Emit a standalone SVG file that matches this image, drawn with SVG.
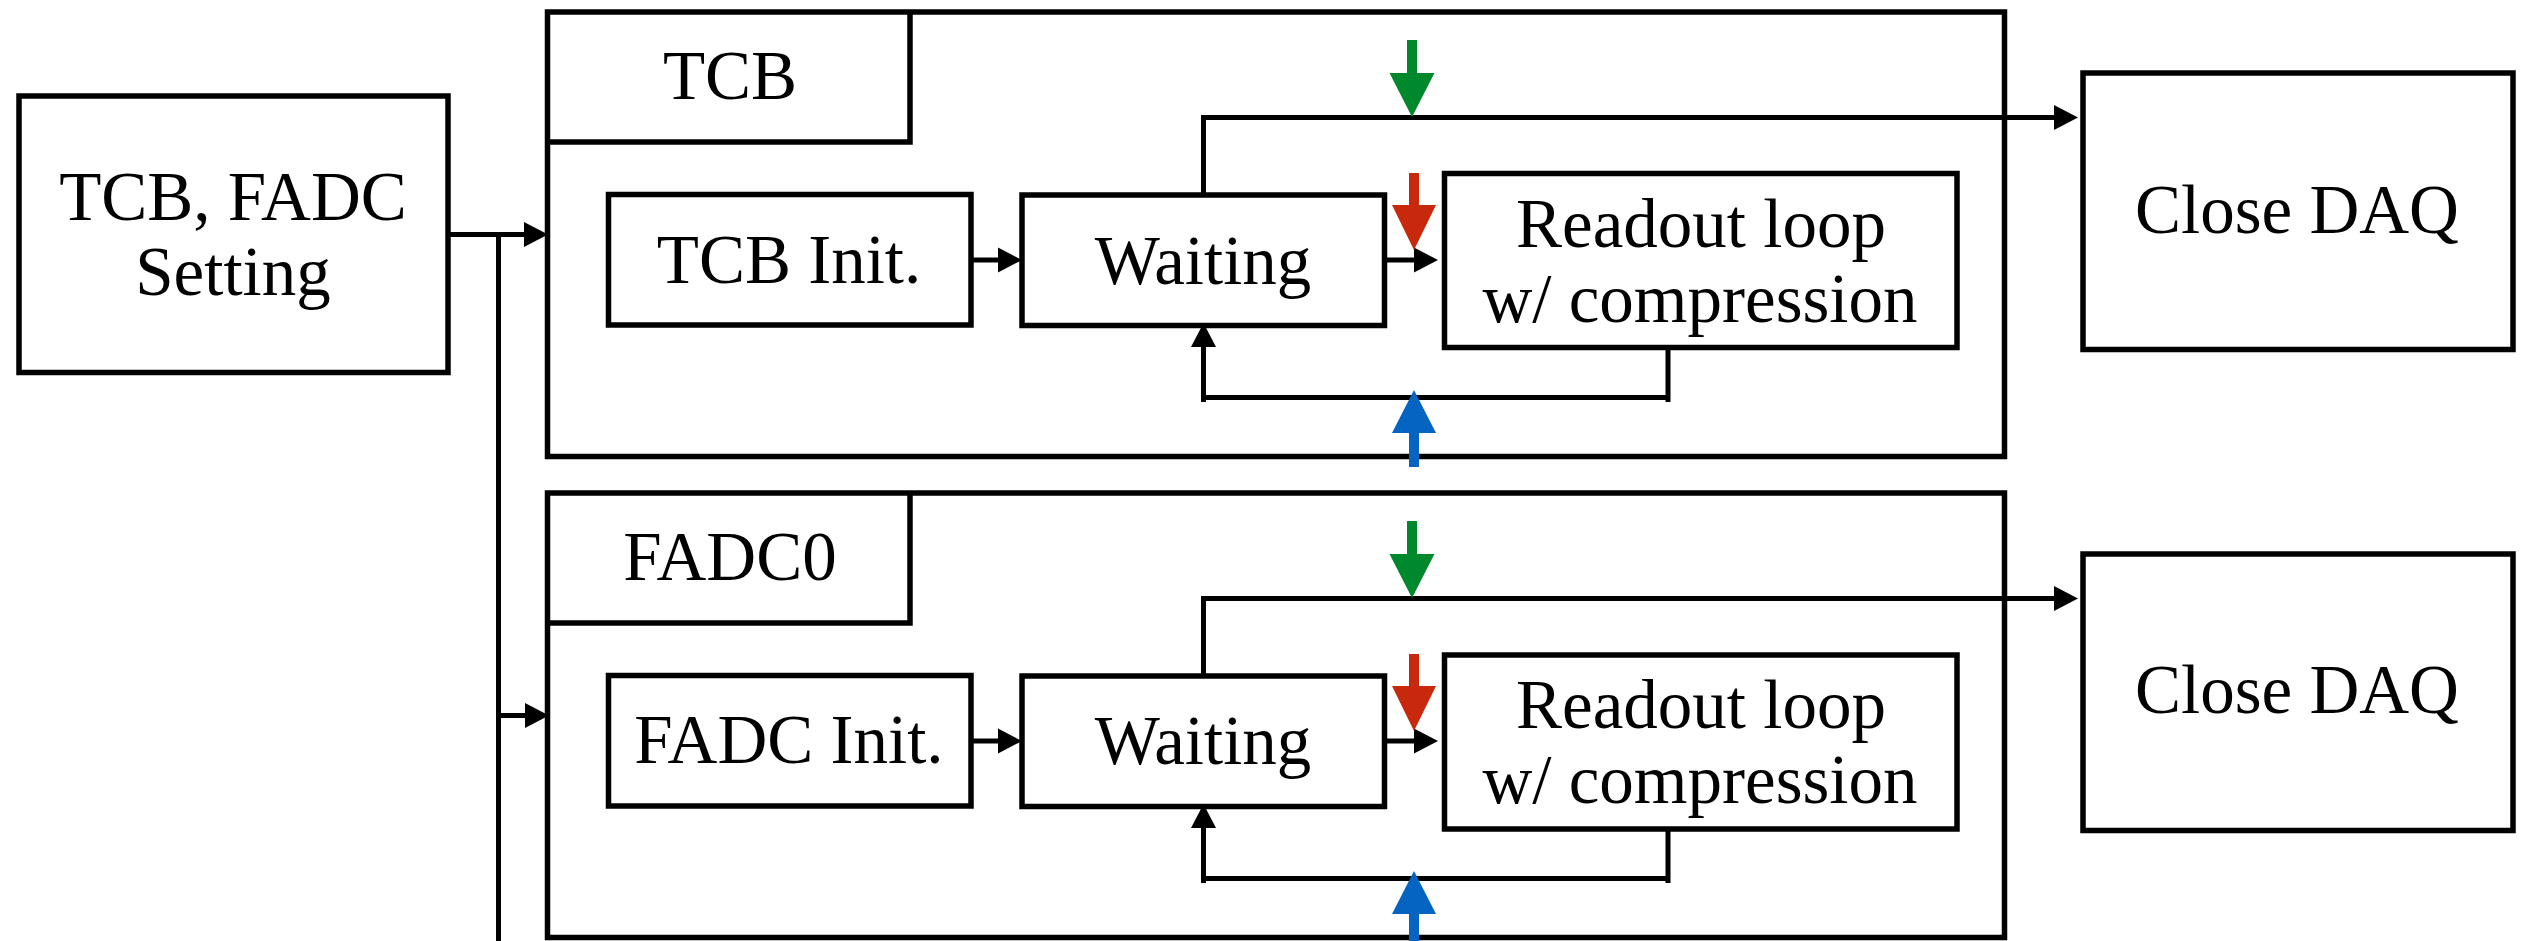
<svg xmlns="http://www.w3.org/2000/svg" width="2522" height="941" viewBox="0 0 2522 941">
  <style>
    .box { fill: #ffffff; stroke: #000000; stroke-width: 5.5; }
    .frame { fill: none; stroke: #000000; stroke-width: 5.5; }
    .wire { fill: none; stroke: #000000; stroke-width: 5; }
    .label { font-family: "Liberation Serif", "Times New Roman", serif; font-size: 69px; fill: #000000; text-anchor: middle; }
    .sig { fill: none; stroke-width: 10; }
  </style>
  <defs>
    <marker id="head" markerUnits="userSpaceOnUse" markerWidth="26" markerHeight="26" refX="0" refY="12.5" orient="auto" overflow="visible">
      <path d="M0,0 L24,12.5 L0,25 Z" fill="#000000"/>
    </marker>
    <marker id="head-green" markerUnits="userSpaceOnUse" markerWidth="46" markerHeight="46" refX="0" refY="22.5" orient="auto" overflow="visible">
      <path d="M0,0 L44,22.5 L0,45 Z" fill="#00892C"/>
    </marker>
    <marker id="head-red" markerUnits="userSpaceOnUse" markerWidth="46" markerHeight="46" refX="0" refY="22" orient="auto" overflow="visible">
      <path d="M0,0 L45,22 L0,44 Z" fill="#C8290C"/>
    </marker>
    <marker id="head-blue" markerUnits="userSpaceOnUse" markerWidth="46" markerHeight="46" refX="0" refY="22" orient="auto" overflow="visible">
      <path d="M0,0 L43,22 L0,44 Z" fill="#0563C1"/>
    </marker>
  </defs>
  <rect width="2522" height="941" fill="#ffffff"/>

  <!-- setting stage -->
  <g id="setting">
    <rect class="box" x="19" y="96" width="429" height="276.5"/>
    <text class="label" x="233" y="220">TCB, FADC</text>
    <text class="label" x="233" y="295">Setting</text>
  </g>

  <!-- TCB process -->
  <g id="tcb">
    <rect class="frame" x="547.5" y="12" width="1457" height="444.5"/>
    <path class="frame" d="M547.5,142 H910 V12"/>
    <text class="label" x="730" y="99">TCB</text>
  </g>
  <g id="tcb-init">
    <rect class="box" x="608.5" y="194.5" width="362.5" height="130.5"/>
    <text class="label" x="789" y="283">TCB Init.</text>
  </g>
  <g id="tcb-waiting">
    <rect class="box" x="1022" y="195" width="362.5" height="130.5"/>
    <text class="label" x="1203" y="284">Waiting</text>
  </g>
  <g id="tcb-readout">
    <rect class="box" x="1444.5" y="173.5" width="512.5" height="174"/>
    <text class="label" x="1701" y="247">Readout loop</text>
    <text class="label" x="1700" y="322">w/ compression</text>
  </g>
  <g id="tcb-close">
    <rect class="box" x="2083" y="73" width="430" height="276.5"/>
    <text class="label" x="2297" y="233">Close DAQ</text>
  </g>

  <!-- FADC0 process -->
  <g id="fadc0">
    <rect class="frame" x="547.5" y="493" width="1457" height="444.5"/>
    <path class="frame" d="M547.5,623 H910 V493"/>
    <text class="label" x="730" y="580">FADC0</text>
  </g>
  <g id="fadc-init">
    <rect class="box" x="608.5" y="675.5" width="362.5" height="130.5"/>
    <text class="label" x="789" y="763">FADC Init.</text>
  </g>
  <g id="fadc-waiting">
    <rect class="box" x="1022" y="676" width="362.5" height="130.5"/>
    <text class="label" x="1203" y="764">Waiting</text>
  </g>
  <g id="fadc-readout">
    <rect class="box" x="1444.5" y="655" width="512.5" height="174"/>
    <text class="label" x="1701" y="728">Readout loop</text>
    <text class="label" x="1700" y="803">w/ compression</text>
  </g>
  <g id="fadc-close">
    <rect class="box" x="2083" y="554" width="430" height="276.5"/>
    <text class="label" x="2297" y="713">Close DAQ</text>
  </g>

  <!-- connectors -->
  <g id="connectors">
    <!-- fan-out from the setting stage -->
    <path class="wire" d="M448,234.5 H524" marker-end="url(#head)"/>
    <path class="wire" d="M498.5,234.5 V941"/>
    <path class="wire" d="M498.5,715.5 H525" marker-end="url(#head)"/>

    <!-- TCB flow -->
    <path class="wire" d="M971,260 H998" marker-end="url(#head)"/>
    <path class="wire" d="M1384.5,260 H1414" marker-end="url(#head)"/>
    <path class="wire" d="M1203.5,195 V117.5 H2054" marker-end="url(#head)"/>
    <path class="wire" d="M1668,347.5 V402 M1670.5,397.5 H1201"/>
    <path class="wire" d="M1203.5,402 V347" marker-end="url(#head)"/>
    <path class="sig" stroke="#00892C" d="M1412,40 V73" marker-end="url(#head-green)"/>
    <path class="sig" stroke="#C8290C" d="M1414,173 V205" marker-end="url(#head-red)"/>
    <path class="sig" stroke="#0563C1" d="M1414,467 V433" marker-end="url(#head-blue)"/>

    <!-- FADC0 flow -->
    <path class="wire" d="M971,741 H998" marker-end="url(#head)"/>
    <path class="wire" d="M1384.5,741 H1414" marker-end="url(#head)"/>
    <path class="wire" d="M1203.5,676 V598.5 H2054" marker-end="url(#head)"/>
    <path class="wire" d="M1668,828.5 V883 M1670.5,878.5 H1201"/>
    <path class="wire" d="M1203.5,883 V828" marker-end="url(#head)"/>
    <path class="sig" stroke="#00892C" d="M1412,521 V554" marker-end="url(#head-green)"/>
    <path class="sig" stroke="#C8290C" d="M1414,654 V686" marker-end="url(#head-red)"/>
    <path class="sig" stroke="#0563C1" d="M1414,948 V914" marker-end="url(#head-blue)"/>
  </g>
</svg>
